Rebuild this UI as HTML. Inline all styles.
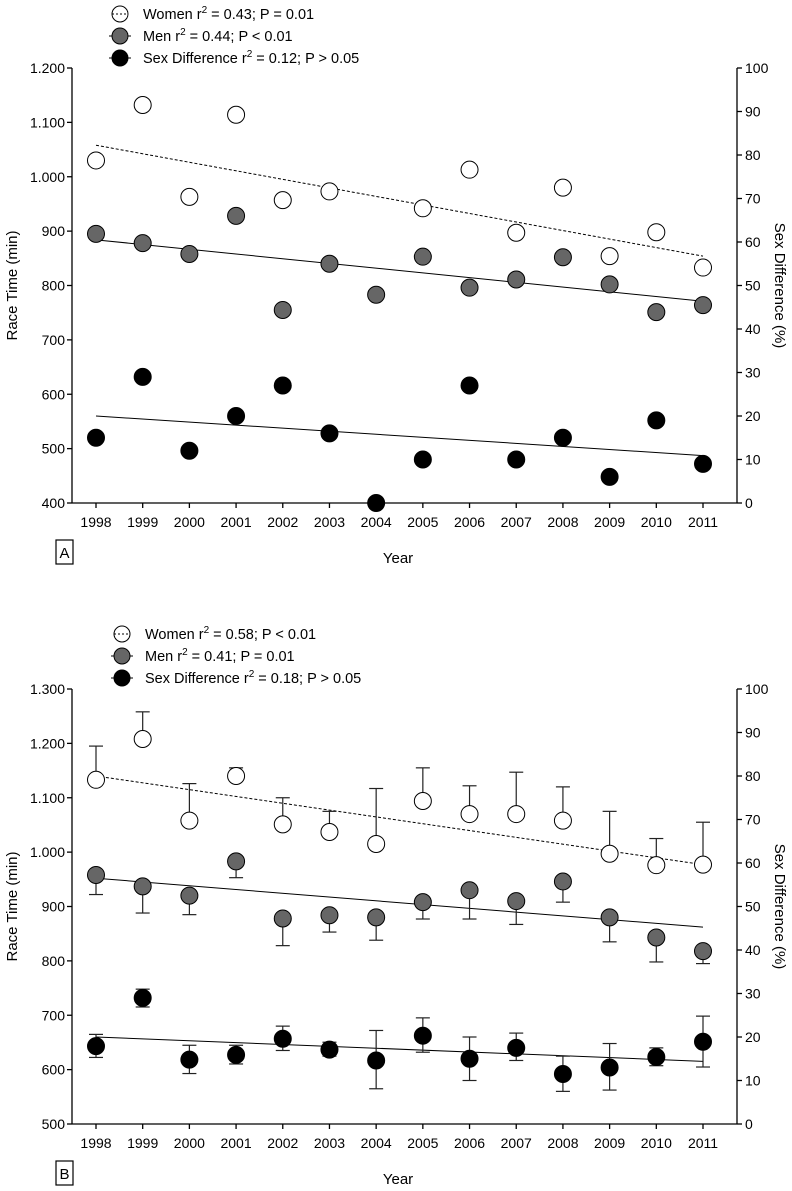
<!DOCTYPE html>
<html><head><meta charset="utf-8"><style>
body{margin:0;background:#fff}
svg{display:block;font-family:"Liberation Sans",Arial,sans-serif}
</style></head><body>
<svg id="c" width="792" height="1191"></svg>
<script>
const years=[1998,1999,2000,2001,2002,2003,2004,2005,2006,2007,2008,2009,2010,2011];
const aWomen=[1030,1132,963,1114,957,973,null,942,1013,897,980,854,898,833];
const aMen=[895,878,858,928,755,840,783,853,796,811,852,802,751,764];
const aDiff=[15,29,12,20,27,16,0,10,27,10,15,6,19,9];
const aWomenTrend=[1058,854];
const aMenTrend=[884,771];
const aDiffTrend=[20,10.9];
const bWomen=[1133,1208,1058,1140,1051,1037,1015,1094,1070,1070,1058,997,976,977];
const bWomenUp=[1195,1258,1126,1155,1100,1075,1117,1155,1122,1147,1120,1075,1025,1055];
const bMen=[958,937,920,983,878,884,880,908,930,910,946,880,843,818];
const bMenLo=[922,888,885,953,828,853,838,877,877,867,908,835,798,795];
const bDiff=[17.9,29,14.8,15.9,19.6,17.1,14.6,20.3,15,17.5,11.5,13,15.4,18.9];
const bDiffUp=[20.6,31,18.1,18.1,22.5,18.8,21.5,24.4,20,20.9,15.6,18.5,17.5,24.8];
const bDiffLo=[15.3,26.9,11.6,13.8,16.9,15.6,8.1,16.5,10,14.6,7.5,7.8,13.4,13.1];
const bWomenTrend=[1140,977];
const bMenTrend=[952,862];
const bDiffTrend=[20,14.4];
const aLeftTicks=["400","500","600","700","800","900","1.000","1.100","1.200"];
const bLeftTicks=["500","600","700","800","900","1.000","1.100","1.200","1.300"];
const rightTicks=["0","10","20","30","40","50","60","70","80","90","100"];
const aLegend=["Women r|2| = 0.43; P = 0.01","Men r|2| = 0.44; P < 0.01","Sex Difference r|2| = 0.12; P > 0.05"];
const bLegend=["Women r|2| = 0.58; P < 0.01","Men r|2| = 0.41; P = 0.01","Sex Difference r|2| = 0.18; P > 0.05"];

const NS="http://www.w3.org/2000/svg";
const svg=document.getElementById('c');
function el(t,a,p){const e=document.createElementNS(NS,t);for(const k in a)e.setAttribute(k,a[k]);(p||svg).appendChild(e);return e;}
function panel(o){
 const g=el('g',{});
 
 
 const L=72,R=737,T=o.top,B=o.bot;
 const x=i=>96+i*(703-96)/13;
 const yl=v=>B-(v-o.lmin)/(o.lmax-o.lmin)*(B-T);
 const yr=v=>B-v/100*(B-T);
 const st={stroke:'#000','stroke-width':1.3,fill:'none'};
 el('line',Object.assign({x1:L,y1:T,x2:L,y2:B},st),g);
 el('line',Object.assign({x1:L,y1:B,x2:R,y2:B},st),g);
 el('line',Object.assign({x1:R,y1:T,x2:R,y2:B},st),g);
 o.lt.forEach((t,i)=>{const y=T+(B-T)*(o.lt.length-1-i)/(o.lt.length-1);
  el('line',Object.assign({x1:L-5,y1:y,x2:L,y2:y},st),g);
  const tx=el('text',{x:L-7,y:y+5,'text-anchor':'end','font-size':14},g);tx.textContent=t;
  });
 rightTicks.forEach((t,i)=>{const y=yr(+t);
  el('line',Object.assign({x1:R,y1:y,x2:R+5,y2:y},st),g);
  const tx=el('text',{x:R+8,y:y+5,'font-size':14},g);tx.textContent=t;
  });
 years.forEach((yv,i)=>{el('line',Object.assign({x1:x(i),y1:B,x2:x(i),y2:B+5},st),g);
  const tx=el('text',{x:x(i),y:B+24,'text-anchor':'middle','font-size':14},g);tx.textContent=yv;
  });
 let t=el('text',{x:398,y:B+60,'text-anchor':'middle','font-size':15},g);t.textContent='Year';
 
 const cy=(T+B)/2;
 t=el('text',{x:0,y:0,'text-anchor':'middle','font-size':15,transform:`translate(17,${cy}) rotate(-90)`},g);t.textContent='Race Time (min)';
 
 t=el('text',{x:0,y:0,'text-anchor':'middle','font-size':15,transform:`translate(775,${cy}) rotate(90)`},g);t.textContent='Sex Difference (%)';
 
 const bx=el('rect',{x:56,y:B+37,width:17,height:24,fill:'#fff',stroke:'#000','stroke-width':1.2},g);
 
 t=el('text',{x:64.5,y:B+55,'text-anchor':'middle','font-size':15},g);t.textContent=o.id;
 
 let ln=el('line',{x1:x(0),y1:yl(o.wT[0]),x2:x(13),y2:yl(o.wT[1]),stroke:'#000','stroke-width':1,'stroke-dasharray':'3,2'},g);
 ln=el('line',{x1:x(0),y1:yl(o.mT[0]),x2:x(13),y2:yl(o.mT[1]),stroke:'#000','stroke-width':1},g);
 ln=el('line',{x1:x(0),y1:yr(o.dT[0]),x2:x(13),y2:yr(o.dT[1]),stroke:'#000','stroke-width':1},g);
 function bar(xx,y1,y2){el('line',{x1:xx,y1:y1,x2:xx,y2:y2,stroke:'#222','stroke-width':1.2},g);el('line',{x1:xx-7,y1:y2,x2:xx+7,y2:y2,stroke:'#222','stroke-width':1.2},g);}
 years.forEach((yv,i)=>{
  if(o.wUp)bar(x(i),yl(o.w[i]),yl(o.wUp[i]));
  if(o.mLo)bar(x(i),yl(o.m[i]),yl(o.mLo[i]));
  if(o.dUp){bar(x(i),yr(o.d[i]),yr(o.dUp[i]));bar(x(i),yr(o.d[i]),yr(o.dLo[i]));}
 });
 years.forEach((yv,i)=>{
  if(o.w[i]!=null){const c=el('circle',{cx:x(i),cy:yl(o.w[i]),r:8.5,fill:'#fff',stroke:'#000','stroke-width':1},g);
   }
  let c=el('circle',{cx:x(i),cy:yl(o.m[i]),r:8.5,fill:'#666',stroke:'#000','stroke-width':1},g);
  
  c=el('circle',{cx:x(i),cy:yr(o.d[i]),r:8.5,fill:'#000',stroke:'#000','stroke-width':1},g);
  
 });
 const fills=['#fff','#666','#000'];
 o.leg.forEach((s,i)=>{const ly=o.ly+i*22;
  const lg=el('g',{},g);
  if(i==0)el('line',{x1:o.lx-8,y1:ly,x2:o.lx+8,y2:ly,stroke:'#000','stroke-width':1,'stroke-dasharray':'2,2'},lg);
  else el('line',{x1:o.lx-11,y1:ly,x2:o.lx+11,y2:ly,stroke:'#000','stroke-width':1},lg);
  el('circle',{cx:o.lx,cy:ly,r:8,fill:i==0?'none':fills[i],stroke:'#000','stroke-width':1},lg);
  const p=s.split('|');const tx=el('text',{x:o.lx+23,y:ly+5,'font-size':14.5},lg);
  const a=el('tspan',{},tx);a.textContent=p[0];
  const b=el('tspan',{dy:-6,'font-size':10},tx);b.textContent=p[1];
  const c2=el('tspan',{dy:6},tx);c2.textContent=p[2];
 });
}
panel({id:'A',top:68,bot:503,lmin:400,lmax:1200,lt:aLeftTicks,w:aWomen,m:aMen,d:aDiff,wT:aWomenTrend,mT:aMenTrend,dT:aDiffTrend,leg:aLegend,lx:120,ly:14});
panel({id:'B',top:689,bot:1124,lmin:500,lmax:1300,lt:bLeftTicks,w:bWomen,m:bMen,d:bDiff,wUp:bWomenUp,mLo:bMenLo,dUp:bDiffUp,dLo:bDiffLo,wT:bWomenTrend,mT:bMenTrend,dT:bDiffTrend,leg:bLegend,lx:122,ly:634});
</script>
</body></html>
